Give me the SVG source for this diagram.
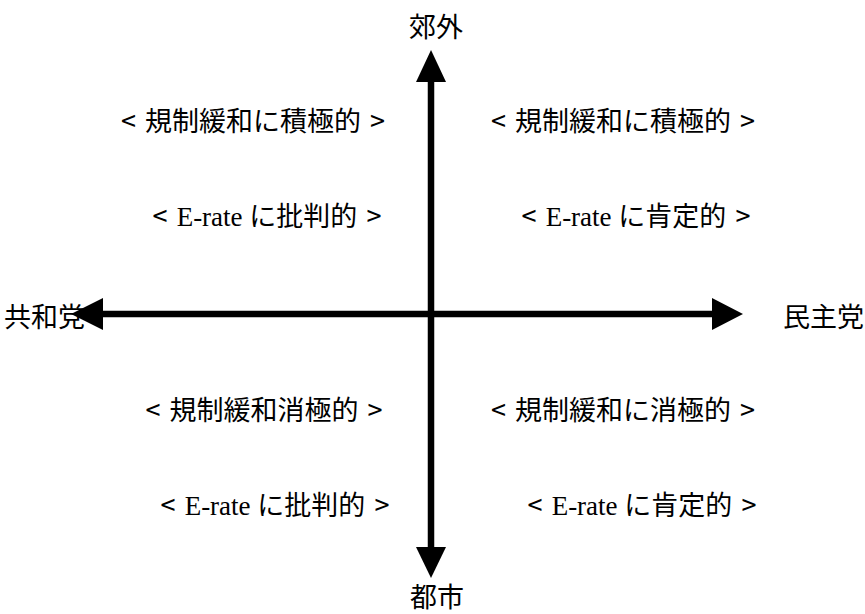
<svg xmlns="http://www.w3.org/2000/svg" width="865" height="614" viewBox="0 0 865 614">
<style>
.t{font-family:"Noto Sans CJK JP","Liberation Sans",sans-serif;font-size:27px;fill:#000;word-spacing:3px}
.m{text-anchor:middle}
.s{font-family:"Liberation Serif",serif;word-spacing:0}
.ax{stroke:#000;stroke-width:6.5;fill:none}
.hd{fill:#000}
</style>
<rect width="865" height="614" fill="#fff"/>
<g id="labels">
<g id="axis-top"><text class="t m" x="436" y="37">郊外</text></g>
<g id="axis-bottom"><text class="t m" x="437" y="607">都市</text></g>
<g id="axis-left"><text class="t" x="4" y="327">共和党</text></g>
<g id="axis-right"><text class="t" x="783" y="327">民主党</text></g>
<g id="q1-a"><text class="t m" x="253" y="131">&lt; 規制緩和に積極的 &gt;</text></g>
<g id="q1-b"><text class="t m" x="267" y="226">&lt; <tspan class="s">E-rate </tspan>に批判的 &gt;</text></g>
<g id="q2-a"><text class="t m" x="623" y="131">&lt; 規制緩和に積極的 &gt;</text></g>
<g id="q2-b"><text class="t m" x="636" y="226">&lt; <tspan class="s">E-rate </tspan>に肯定的 &gt;</text></g>
<g id="q3-a"><text class="t m" x="264" y="420">&lt; 規制緩和消極的 &gt;</text></g>
<g id="q3-b"><text class="t m" x="275" y="515">&lt; <tspan class="s">E-rate </tspan>に批判的 &gt;</text></g>
<g id="q4-a"><text class="t m" x="623" y="420">&lt; 規制緩和に消極的 &gt;</text></g>
<g id="q4-b"><text class="t m" x="642" y="515">&lt; <tspan class="s">E-rate </tspan>に肯定的 &gt;</text></g>
</g>
<g id="connectors">
<line class="ax" x1="431" y1="80" x2="431" y2="549"/>
<polygon class="hd" points="431,50 416,82 446,82"/>
<polygon class="hd" points="431,578 416,547 446,547"/>
<line class="ax" x1="101" y1="314" x2="714" y2="314"/>
<polygon class="hd" points="71,314 103,298 103,330"/>
<polygon class="hd" points="743,314 712,298 712,330"/>
</g>
</svg>
